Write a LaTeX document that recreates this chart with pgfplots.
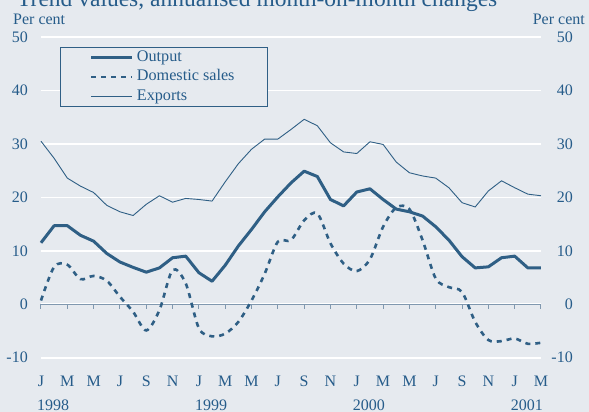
\documentclass[border=0pt]{standalone}
\usepackage{pgfplots}
\pgfplotsset{compat=1.18}
\usepackage{fontspec}
\setmainfont{Liberation Serif}
\definecolor{bgc}{RGB}{230,234,239}
\definecolor{lnc}{RGB}{47,95,133}
\definecolor{txc}{RGB}{38,92,138}
\definecolor{axc}{RGB}{128,152,175}
\newcommand{\lblfont}{\fontsize{16bp}{19bp}\selectfont}
\newcommand{\legfont}{\fontsize{16.2bp}{19bp}\selectfont}

% Output: trend, annualised month-on-month change (month 0 = Jan 1998)
\pgfplotstableread{
m v
0 11.5
1 14.7
2 14.7
3 12.9
4 11.8
5 9.5
6 7.9
7 6.9
8 6.0
9 6.8
10 8.7
11 9.0
12 5.9
13 4.3
14 7.3
15 10.9
16 14.0
17 17.3
18 20.1
19 22.7
20 24.9
21 23.9
22 19.6
23 18.4
24 21.0
25 21.6
26 19.6
27 17.8
28 17.3
29 16.5
30 14.5
31 12.0
32 8.9
33 6.8
34 7.0
35 8.7
36 9.0
37 6.8
38 6.8
}\output

% Domestic sales
\pgfplotstableread{
m v
0 0.7
1 7.0
2 7.4
3 4.7
4 5.3
5 4.4
6 1.4
7 -1.4
8 -4.9
9 -1.1
10 6.4
11 3.9
12 -4.5
13 -6.0
14 -5.5
15 -3.3
16 0.7
17 5.7
18 11.7
19 12.0
20 15.7
21 17.0
22 11.4
23 7.6
24 6.2
25 8.4
26 14.5
27 18.1
28 17.8
29 12.0
30 4.8
31 3.2
32 2.3
33 -3.3
34 -6.7
35 -6.9
36 -6.4
37 -7.4
38 -7.2
}\domestic

% Exports
\pgfplotstableread{
m v
0 30.5
1 27.3
2 23.6
3 22.1
4 20.9
5 18.5
6 17.3
7 16.6
8 18.7
9 20.3
10 19.1
11 19.8
12 19.6
13 19.3
14 22.9
15 26.3
16 29.0
17 30.9
18 30.9
19 32.7
20 34.6
21 33.4
22 30.2
23 28.5
24 28.2
25 30.4
26 29.9
27 26.6
28 24.6
29 24.0
30 23.6
31 21.8
32 19.0
33 18.2
34 21.2
35 23.1
36 21.8
37 20.6
38 20.3
}\exports

\begin{document}
\begin{tikzpicture}
\useasboundingbox (-41bp,-54.3bp) rectangle (548bp,357.7bp);
\fill[bgc] (-41bp,-54.3bp) rectangle (548bp,357.7bp);
\node[anchor=base west, font=\fontsize{23.5bp}{28bp}\selectfont, text=txc, inner sep=0pt]
  at (-24bp,351.5bp) {Trend values, annualised month-on-month changes};
\node[anchor=west, font=\lblfont, text=txc, inner sep=0pt] at (-28bp,338.7bp) {Per cent};
\node[anchor=east, font=\lblfont, text=txc, inner sep=0pt] at (544bp,338.7bp) {Per cent};

\begin{axis}[
  at={(0bp,0bp)}, anchor=south west,
  scale only axis, width=500bp, height=320.7bp,
  xmin=0, xmax=38, ymin=-10, ymax=50,
  axis line style={draw=none},
  major tick length=0pt,
  ytick={-10,0,...,50},
  xtick={0,2,...,38},
  xticklabels={J,M,M,J,S,N,J,M,M,J,S,N,J,M,M,J,S,N,J,M},
  ymajorgrids,
  major grid style={white, line width=1.6bp},
  /pgf/number format/assume math mode=true,
  tick label style={font=\lblfont, text=txc},
  yticklabel style={anchor=east, inner sep=0pt, xshift=-13bp},
  xticklabel style={anchor=base, inner sep=0pt, yshift=-29bp},
  clip=false,
  legend cell align=left,
  legend image code/.code={\draw[#1] (0bp,0bp) -- (41bp,0bp);},
  legend style={at={(rel axis cs:0.038,0.968)}, anchor=north west,
    draw=lnc, line width=0.8bp, fill=bgc, font=\legfont, text=txc,
    inner xsep=29.5bp, inner ysep=3bp, row sep=5.3bp,
    nodes={inner xsep=3bp, inner ysep=0pt, text height=11bp, text depth=3bp}},
]
% zero line with month ticks
\draw[axc, line width=1.5bp] (axis cs:0,0) -- (axis cs:38,0);
\pgfplotsinvokeforeach{0,2,...,38}{
  \draw[axc, line width=1bp] (axis cs:#1,0) -- ++(0bp,-5bp);
}
\addplot[lnc, line width=3bp, line join=round] table[x=m,y=v] {\output};
\addlegendentry{Output}
\addplot[lnc, line width=2.6bp, dash pattern=on 5bp off 5bp, smooth, tension=0.5] table[x=m,y=v] {\domestic};
\addlegendentry{Domestic sales}
\addplot[lnc, line width=0.9bp, line join=round] table[x=m,y=v] {\exports};
\addlegendentry{Exports}
% year labels
\node[anchor=base west, font=\lblfont, text=txc, inner sep=0pt] at (axis cs:0,-10) [xshift=-4bp, yshift=-52.3bp] {1998};
\node[anchor=base west, font=\lblfont, text=txc, inner sep=0pt] at (axis cs:12,-10) [xshift=-4bp, yshift=-52.3bp] {1999};
\node[anchor=base west, font=\lblfont, text=txc, inner sep=0pt] at (axis cs:24,-10) [xshift=-4bp, yshift=-52.3bp] {2000};
\node[anchor=base west, font=\lblfont, text=txc, inner sep=0pt] at (axis cs:36,-10) [xshift=-4bp, yshift=-52.3bp] {2001};
\end{axis}

% tick labels on the right-hand side
\begin{axis}[
  at={(0bp,0bp)}, anchor=south west,
  scale only axis, width=500bp, height=320.7bp,
  xmin=0, xmax=38, ymin=-10, ymax=50,
  hide x axis,
  axis line style={draw=none},
  major tick length=0pt,
  ytick={-10,0,...,50},
  yticklabel pos=right,
  /pgf/number format/assume math mode=true,
  tick label style={font=\lblfont, text=txc},
  yticklabel style={anchor=east, inner sep=0pt, xshift=32bp},
]
\end{axis}
\end{tikzpicture}
\end{document}
